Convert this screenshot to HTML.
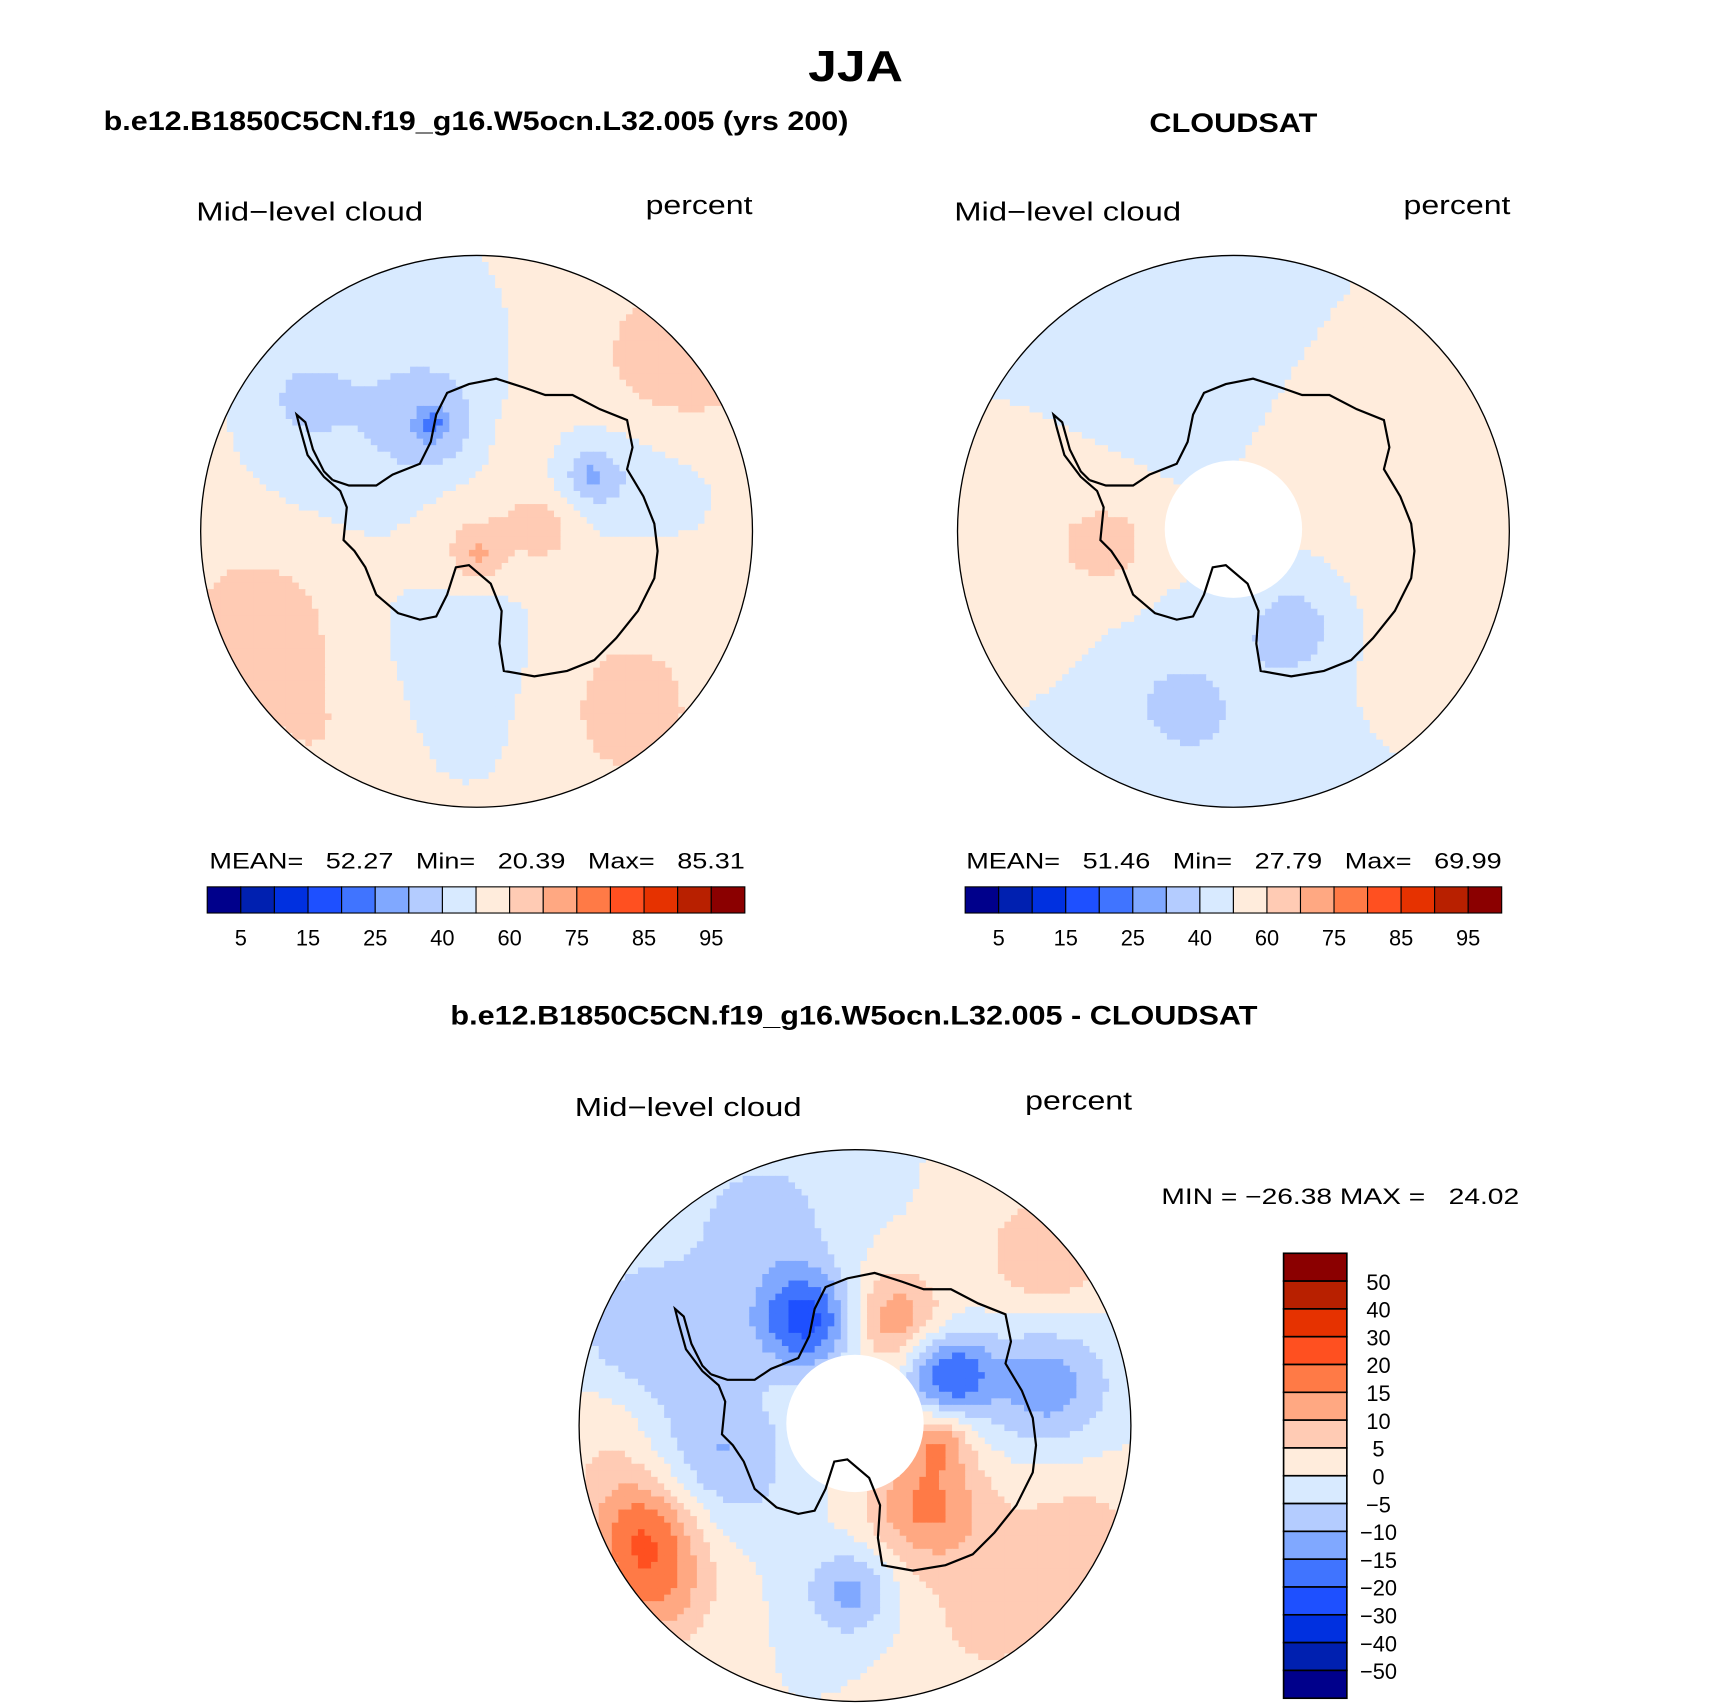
<!DOCTYPE html>
<html><head><meta charset="utf-8"><style>
html,body{margin:0;padding:0;background:#fff}
svg{display:block}
text{font-family:"Liberation Sans",sans-serif}
.pre{white-space:pre}
</style></head><body>
<svg id="fig" width="1710" height="1705" viewBox="0 0 1568 1563" xmlns="http://www.w3.org/2000/svg">
<defs>
<clipPath id="cL"><circle cx="437" cy="487" r="253"/></clipPath>
<clipPath id="cR"><circle cx="1131" cy="487" r="253"/></clipPath>
<clipPath id="cB"><circle cx="784" cy="1307" r="253"/></clipPath>
</defs>
<text x="741" y="74" font-size="40" font-weight="bold" textLength="87" lengthAdjust="spacingAndGlyphs">JJA</text>
<text x="95" y="119" font-size="25" font-weight="bold" textLength="683" lengthAdjust="spacingAndGlyphs">b.e12.B1850C5CN.f19_g16.W5ocn.L32.005 (yrs 200)</text>
<text x="1054" y="121" font-size="25" font-weight="bold" textLength="154" lengthAdjust="spacingAndGlyphs">CLOUDSAT</text>
<text x="180" y="202" font-size="24" textLength="208" lengthAdjust="spacingAndGlyphs">Mid−level cloud</text>
<text x="592" y="196" font-size="24" textLength="98" lengthAdjust="spacingAndGlyphs">percent</text>
<text x="875" y="202" font-size="24" textLength="208" lengthAdjust="spacingAndGlyphs">Mid−level cloud</text>
<text x="1287" y="196" font-size="24" textLength="98" lengthAdjust="spacingAndGlyphs">percent</text>
<g id="mapL" clip-path="url(#cL)"></g>
<g id="mapR" clip-path="url(#cR)"></g>
<circle cx="1131" cy="485" r="63" fill="#fff"/>
<circle cx="437" cy="487" r="253" fill="none" stroke="#000" stroke-width="1.2"/>
<circle cx="1131" cy="487" r="253" fill="none" stroke="#000" stroke-width="1.2"/>
<text class="pre" x="192" y="796" font-size="20" textLength="491" lengthAdjust="spacingAndGlyphs">MEAN=   52.27   Min=   20.39   Max=   85.31</text>
<text class="pre" x="886" y="796" font-size="20" textLength="491" lengthAdjust="spacingAndGlyphs">MEAN=   51.46   Min=   27.79   Max=   69.99</text>
<g id="cbL"></g>
<g id="cbR"></g>
<text x="413" y="939" font-size="25" font-weight="bold" textLength="740" lengthAdjust="spacingAndGlyphs">b.e12.B1850C5CN.f19_g16.W5ocn.L32.005 - CLOUDSAT</text>
<text x="527" y="1023" font-size="24" textLength="208" lengthAdjust="spacingAndGlyphs">Mid−level cloud</text>
<text x="940" y="1017" font-size="24" textLength="98" lengthAdjust="spacingAndGlyphs">percent</text>
<g id="mapB" clip-path="url(#cB)"></g>
<circle cx="784" cy="1305" r="63" fill="#fff"/>
<circle cx="784" cy="1307" r="253" fill="none" stroke="#000" stroke-width="1.2"/>
<text class="pre" x="1065" y="1104" font-size="20" textLength="328" lengthAdjust="spacingAndGlyphs">MIN = −26.38 MAX =   24.02</text>
<g id="cbB"></g>
<g id="coast"></g>
</svg>
<script>
const colors=["#00008b","#0020b0","#0030e0","#1e50ff","#4074ff","#80a8ff","#b4ccff","#d8eaff","#ffecdc","#ffcbb4","#ffa882","#ff7a46","#ff5020","#e63200","#b82000","#8b0000"];
const absLevels=[5,10,15,20,25,30,40,50,60,70,75,80,85,90,95];
const absTickLabels=["5","15","25","40","60","75","85","95"];
const diffLevels=[-50,-40,-30,-20,-15,-10,-5,0,5,10,15,20,30,40,50];
const diffTickLabels=["50","40","30","20","15","10","5","0","−5","−10","−15","−20","−30","−40","−50"];
// blobs: [dx, dy, sigma, amplitude] relative to map centre (displayed px)
const modelBase=55;
const modelBlobs=[[-57,-187,80,-9],[-137,-87,65,-9],[-167,-127,35,-7],[-37,-97,35,-15],[-42,-97,12,-10],[108,-50,35,-16],[105,-50,12,-12],[3,163,80,-8],[-17,73,50,-8],[183,-37,40,-8],[-50,-10,40,-5],[183,-157,60,9],[123,163,60,10],[-197,83,50,10],[-17,13,40,12],[3,23,15,14],[63,-7,25,12],[43,-87,20,8],[-137,183,50,6]];
const obsBase=50;
const obsBlobs=[[-81,-187,100,-8],[0,193,90,-8],[-180,-7,80,8],[129,-67,90,6],[-111,13,30,10],[59,83,35,-12],[200,20,60,5],[-60,150,40,-6],[160,140,50,5]];
const diffBase=0;
const diffBlobs=[[-44,-97,32,-22],[86,-47,28,-20],[176,-37,40,-13],[-184,-77,55,-10],[-124,33,45,-10],[-4,153,28,-12],[-84,-187,45,-8],[36,-97,32,14],[66,73,38,16],[-194,93,38,17],[-184,153,38,12],[176,-157,40,10],[206,113,50,8],[76,13,20,12],[-224,0,40,6],[120,180,50,6]];
const coast=[[-132,-47],[-117,-42],[-92,-42],[-77,-52],[-52,-62],[-42,-82],[-37,-107],[-27,-127],[-7,-135],[18,-140],[43,-132],[63,-125],[88,-125],[113,-112],[138,-102],[143,-77],[138,-57],[153,-32],[163,-7],[166,18],[163,43],[148,73],[128,98],[108,118],[83,128],[53,133],[25,128],[21,103],[23,73],[13,48],[-7,31],[-19,33],[-27,58],[-37,78],[-52,81],[-72,75],[-92,58],[-102,33],[-112,18],[-122,8],[-119,-22],[-125,-37],[-140,-50],[-155,-70],[-162,-95],[-165,-107],[-157,-100],[-150,-75],[-140,-55],[-132,-47]];
const NS="http://www.w3.org/2000/svg";
function clsIndex(v,levels){let i=0;while(i<levels.length&&v>=levels[i])i++;return i;}
function drawMap(gid,cx,cy,base,blobs,levels){
  const g=document.getElementById(gid);const R=253,step=6;
  for(let y=cy-R;y<cy+R;y+=step){for(let x=cx-R;x<cx+R;x+=step){
    const mx=x+step/2-cx,my=y+step/2-cy; if(mx*mx+my*my>(R+step)*(R+step))continue;
    let v=base;for(const b of blobs){const dx=mx-b[0],dy=my-b[1];v+=b[3]*Math.exp(-(dx*dx+dy*dy)/(2*b[2]*b[2]));}
    const r=document.createElementNS(NS,"rect");
    
    
    r.setAttribute("x",x);r.setAttribute("y",y);r.setAttribute("width",step+0.6);r.setAttribute("height",step+0.6);
    r.setAttribute("fill",colors[clsIndex(v,levels)]);g.appendChild(r);}}
}
drawMap("mapL",437,487,modelBase,modelBlobs,absLevels);
drawMap("mapR",1131,487,obsBase,obsBlobs,absLevels);
drawMap("mapB",784,1307,diffBase,diffBlobs,diffLevels);
function drawCoast(cx,cy){
  const p=document.createElementNS(NS,"polyline");
  
  
  p.setAttribute("points",coast.map(c=>(cx+c[0])+","+(cy+c[1])).join(" "));
  p.setAttribute("fill","none");p.setAttribute("stroke","#000");p.setAttribute("stroke-width","2");
  document.getElementById("coast").appendChild(p);
}
drawCoast(437,487);drawCoast(1131,487);drawCoast(784,1307);
function hBar(gid,x0,x1,y0,h){
  const g=document.getElementById(gid);const w=(x1-x0)/colors.length;
  colors.forEach((c,i)=>{const r=document.createElementNS(NS,"rect");
    
    
    r.setAttribute("x",x0+i*w);r.setAttribute("y",y0);r.setAttribute("width",w);r.setAttribute("height",h);
    r.setAttribute("fill",c);r.setAttribute("stroke","#000");r.setAttribute("stroke-width","1");g.appendChild(r);});
  absTickLabels.forEach((t,k)=>{const tx=document.createElementNS(NS,"text");
    
    
    tx.setAttribute("x",x0+(2*k+1)*w);tx.setAttribute("y",y0+h+30);tx.setAttribute("font-size","20");
    tx.setAttribute("text-anchor","middle");tx.textContent=t;g.appendChild(tx);});
}
hBar("cbL",190,683,813,24);hBar("cbR",885,1377,813,24);
(function(){const g=document.getElementById("cbB");const x0=1177,w=58,y0=1149,y1=1557;const h=(y1-y0)/colors.length;
  colors.slice().reverse().forEach((c,i)=>{const r=document.createElementNS(NS,"rect");
    
    
    r.setAttribute("x",x0);r.setAttribute("y",y0+i*h);r.setAttribute("width",w);r.setAttribute("height",h);
    r.setAttribute("fill",c);r.setAttribute("stroke","#000");r.setAttribute("stroke-width","1.5");g.appendChild(r);});
  diffTickLabels.forEach((t,k)=>{const tx=document.createElementNS(NS,"text");
    
    
    tx.setAttribute("x",1264);tx.setAttribute("y",y0+(k+1)*h+8);tx.setAttribute("font-size","20");
    tx.setAttribute("text-anchor","middle");tx.textContent=t;g.appendChild(tx);});
})();
</script>
</body></html>
